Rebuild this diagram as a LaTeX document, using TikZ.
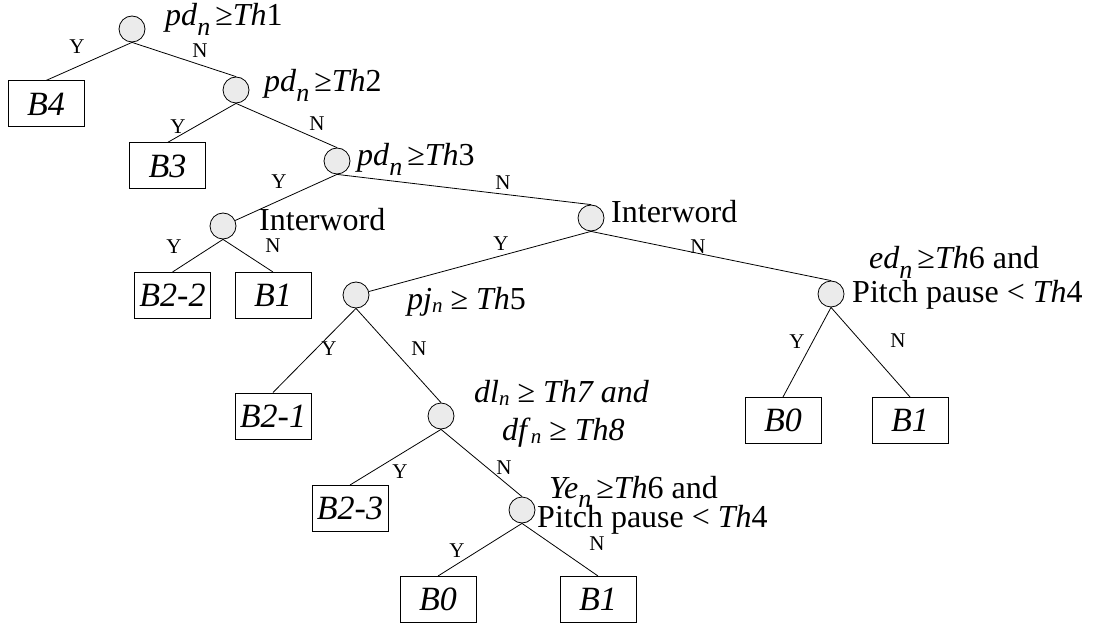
\documentclass[tikz,border=0pt]{standalone}
\usepackage{fontspec}
\setmainfont{Liberation Serif}
% lowered subscript as set by an equation editor
\newcommand\lsub[1]{\raisebox{-0.30em}{\fontsize{26}{26}\selectfont\itshape #1}}
% smaller, slightly lowered subscript
\newcommand\ssub[1]{\raisebox{-0.12em}{\fontsize{21}{21}\selectfont\itshape #1}}
\begin{document}
\begin{tikzpicture}[x=1pt,y=-1pt,
  dec/.style={circle,draw,line width=0.8pt,fill=black!8,minimum size=26pt,inner sep=0pt},
  leaf/.style={draw,line width=1pt,minimum width=76pt,minimum height=46pt,inner sep=0pt,
               font=\fontsize{34}{34}\selectfont\itshape},
  yn/.style={font=\fontsize{21}{21}\selectfont,inner sep=0pt},
  cond/.style={font=\fontsize{32}{34}\selectfont,inner sep=0pt,anchor=base west},
  branch/.style={line width=0.8pt}]
\useasboundingbox (0,0) rectangle (1099,628);

% decision nodes
\node[dec] (c1) at (132,29) {};
\node[dec] (c2) at (236,90) {};
\node[dec] (c3) at (337,161) {};
\node[dec] (c4) at (223,226) {};
\node[dec] (c5) at (591,218) {};
\node[dec] (c6) at (356,295) {};
\node[dec] (c7) at (831,294) {};
\node[dec] (c8) at (441,416) {};
\node[dec] (c9) at (522,510) {};

% leaves
\node[leaf] (b4)  at (46,104)    {B4};
\node[leaf] (b3)  at (167.5,166) {B3};
\node[leaf] (b22) at (172.5,295.5) {B2-2};
\node[leaf] (b1a) at (273,295.5) {B1};
\node[leaf] (b21) at (273,416)   {B2-1};
\node[leaf] (b23) at (350,508.5) {B2-3};
\node[leaf] (b0b) at (438,599.5) {B0};
\node[leaf] (b1b) at (598,599.5) {B1};
\node[leaf] (b0r) at (783,420.5) {B0};
\node[leaf] (b1r) at (910,420.5) {B1};

% branches
\draw[branch] (c1.south) -- (b4.north);
\draw[branch] (c1.south) -- (c2.north);
\draw[branch] (c2.south) -- (b3.north);
\draw[branch] (c2.south) -- (c3.north);
\draw[branch] (c3.south) -- (c4);
\draw[branch] (c3.south) -- (c5.north);
\draw[branch] (c4.south) -- (b22.north);
\draw[branch] (c4.south) -- (b1a.north);
\draw[branch] (c5.south) -- (c6);
\draw[branch] (c5.south) -- (c7.north);
\draw[branch] (c6.south) -- (b21.north);
\draw[branch] (c6.south) -- (c8.north);
\draw[branch] (c7.south) -- (b0r.north);
\draw[branch] (c7.south) -- (b1r.north);
\draw[branch] (c8.south) -- (b23.north);
\draw[branch] (c8.south) -- (c9.north);
\draw[branch] (c9.south) -- (b0b.north);
\draw[branch] (c9.south) -- (b1b.north);

% branch labels
\node[yn] (y1) at (77,47)  {Y};  \node[yn] (n1) at (200,51)  {N};
\node[yn] (y2) at (178,127) {Y}; \node[yn] (n2) at (317,124) {N};
\node[yn] (y3) at (279,182) {Y}; \node[yn] (n3) at (503,183) {N};
\node[yn] (y4) at (174,247) {Y}; \node[yn] (n4) at (273,246) {N};
\node[yn] (y5) at (501,244) {Y}; \node[yn] (n5) at (698,247) {N};
\node[yn] (y6) at (329,349) {Y}; \node[yn] (n6) at (419,349) {N};
\node[yn] (y7) at (797,342) {Y}; \node[yn] (n7) at (898,341) {N};
\node[yn] (y8) at (400,472) {Y}; \node[yn] (n8) at (504,468) {N};
\node[yn] (y9) at (457,551) {Y}; \node[yn] (n9) at (597,544) {N};

% split conditions
\node[cond] (t1) at (165,26)  {\textit{pd}\lsub{n}\hspace{5pt}≥\textit{Th}1};
\node[cond] (t2) at (264,92)  {\textit{pd}\lsub{n}\hspace{5pt}≥\textit{Th}2};
\node[cond] (t3) at (357,166) {\textit{pd}\lsub{n}\hspace{5pt}≥\textit{Th}3};
\node[cond] (t4) at (259,230) {Interword};
\node[cond] (t5) at (611,223) {Interword};
\node[cond] (t6) at (407,309) {\textit{pj}\ssub{n} ≥ \textit{Th}5};
\node[cond] (t7a) at (869,269) {\textit{ed}\lsub{n}\hspace{5pt}≥\textit{Th}6 and};
\node[cond] (t7b) at (852,302) {Pitch pause < \textit{Th}4};
\node[cond] (t8a) at (474,402) {\textit{dl}\ssub{n} ≥ \textit{Th7 and}};
\node[cond] (t8b) at (502,440) {\textit{df}\ssub{n} ≥ \textit{Th8}};
\node[cond] (t9a) at (549,498) {\textit{Ye}\lsub{n}\hspace{5pt}≥\textit{Th}6 and};
\node[cond] (t9b) at (537,527) {Pitch pause < \textit{Th}4};
\end{tikzpicture}
\end{document}
